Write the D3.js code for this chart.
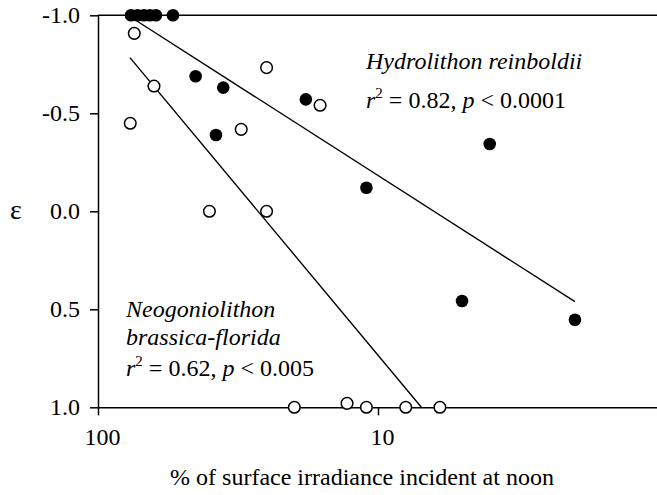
<!DOCTYPE html>
<html>
<head>
<meta charset="utf-8">
<script src="https://cdn.jsdelivr.net/npm/d3@7"></script>
<style>
  body { margin: 0; background: #fff; }
  svg { display: block; }
  text { font-family: "Liberation Serif", "Times New Roman", serif; fill: #000; }
  .axis path, .axis line { stroke: #000; stroke-width: 1.5; }
  .axis text { font-size: 24px; font-family: "Liberation Serif", serif; }
</style>
</head>
<body>
<div id="chart"></div>
<script>
// Hydrolithon reinboldii (filled)
var hydroX = [76.2, 72.2, 68.5, 65.2, 62.1, 54.0, 44.8, 35.7, 37.9, 18.1, 11.0, 3.99, 5.01, 1.98];
var hydroY = [-1.0, -1.0, -1.0, -1.0, -1.0, -1.0, -0.689, -0.631, -0.389, -0.571, -0.120, -0.343, 0.458, 0.553];

// Neogoniolithon brassica-florida (open)
var neoX = [74.2, 63.1, 76.7, 25.0, 16.1, 30.8, 40.0, 25.0, 19.9, 12.9, 11.0, 7.96, 6.01];
var neoY = [-0.908, -0.639, -0.449, -0.733, -0.541, -0.418, 0.0, 0.0, 1.0, 0.98, 1.0, 1.0, 1.0];

// regression line end points [x, y]
var hydroFit = [[76.2, -0.99], [1.98, 0.461]];
var neoFit = [[76.9, -0.784], [7.0, 1.0]];

var xTicks = [100, 10, 1];
var yTicks = [-1.0, -0.5, 0.0, 0.5, 1.0];

var width = 657, height = 495;
var plotLeft = 98, plotTop = 15.3, plotRight = 658, plotBottom = 407.3;

var svg = d3.select("#chart").append("svg")
    .attr("width", width)
    .attr("height", height);

var x = d3.scaleLog().domain([100, 1]).range([plotLeft, plotRight]);
var y = d3.scaleLinear().domain([-1, 1]).range([plotTop, plotBottom]);

// top line at -1.0
svg.append("line")
    .attr("x1", plotLeft).attr("x2", width)
    .attr("y1", y(-1)).attr("y2", y(-1))
    .attr("stroke", "#000").attr("stroke-width", 1.5);

var yAxis = svg.append("g")
    .attr("class", "axis")
    .attr("transform", "translate(" + plotLeft + ",0)")
    .call(d3.axisLeft(y).tickValues(yTicks).tickSize(8).tickSizeOuter(0).tickPadding(10)
        .tickFormat(function(d) { return d.toFixed(1); }));

var xAxis = svg.append("g")
    .attr("class", "axis")
    .attr("transform", "translate(0," + plotBottom + ")")
    .call(d3.axisBottom(x).tickValues(xTicks).tickSize(8).tickSizeOuter(0).tickPadding(13)
        .tickFormat(function(d) { return d; }));
xAxis.selectAll("text").attr("dx", 4);

// regression lines
var line = d3.line()
    .x(function(d) { return x(d[0]); })
    .y(function(d) { return y(d[1]); });

svg.append("path").datum(hydroFit).attr("d", line)
    .attr("fill", "none").attr("stroke", "#000").attr("stroke-width", 1.4);
svg.append("path").datum(neoFit).attr("d", line)
    .attr("fill", "none").attr("stroke", "#000").attr("stroke-width", 1.4);

// points
svg.selectAll(".neo")
    .data(d3.range(neoX.length))
    .enter()
    .append("circle")
    .attr("class", "neo")
    .attr("cx", function(i) { return x(neoX[i]); })
    .attr("cy", function(i) { return y(neoY[i]); })
    .attr("r", 5.8)
    .attr("fill", "#fff")
    .attr("stroke", "#000")
    .attr("stroke-width", 1.5);

svg.selectAll(".hydro")
    .data(d3.range(hydroX.length))
    .enter()
    .append("circle")
    .attr("class", "hydro")
    .attr("cx", function(i) { return x(hydroX[i]); })
    .attr("cy", function(i) { return y(hydroY[i]); })
    .attr("r", 6.3)
    .attr("fill", "#000");

// annotations
var hydroLabel = svg.append("text").attr("x", 366).attr("y", 69).style("font-size", "24px");
hydroLabel.append("tspan").style("font-style", "italic").text("Hydrolithon reinboldii");

var hydroStat = svg.append("text").attr("x", 366).attr("y", 108).style("font-size", "24px");
hydroStat.append("tspan").style("font-style", "italic").text("r");
hydroStat.append("tspan").attr("dy", -10).style("font-size", "15px").text("2");
hydroStat.append("tspan").attr("dy", 10).text(" = 0.82, ");
hydroStat.append("tspan").style("font-style", "italic").text("p");
hydroStat.append("tspan").text(" < 0.0001");

svg.append("text").attr("x", 126).attr("y", 317).style("font-size", "24px")
    .style("font-style", "italic").text("Neogoniolithon");
svg.append("text").attr("x", 126).attr("y", 345).style("font-size", "24px")
    .style("font-style", "italic").text("brassica-florida");

var neoStat = svg.append("text").attr("x", 126).attr("y", 376).style("font-size", "24px");
neoStat.append("tspan").style("font-style", "italic").text("r");
neoStat.append("tspan").attr("dy", -10).style("font-size", "15px").text("2");
neoStat.append("tspan").attr("dy", 10).text(" = 0.62, ");
neoStat.append("tspan").style("font-style", "italic").text("p");
neoStat.append("tspan").text(" < 0.005");

// axis titles
svg.append("text").attr("x", 16).attr("y", 219).attr("text-anchor", "middle")
    .style("font-size", "28px").text("ε");

svg.append("text").attr("x", 362).attr("y", 485).attr("text-anchor", "middle")
    .style("font-size", "24px").text("% of surface irradiance incident at noon");
</script>
</body>
</html>
